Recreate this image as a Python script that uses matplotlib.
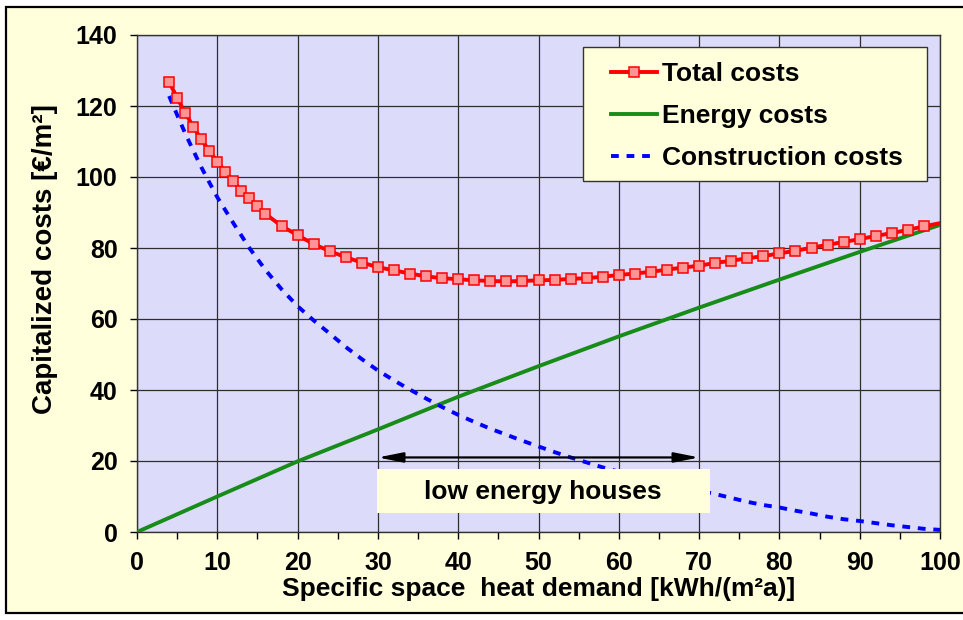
import numpy as np
import matplotlib
matplotlib.use('Agg')
import matplotlib.pyplot as plt
from matplotlib.patches import Rectangle
from matplotlib.lines import Line2D

plt.rcParams['font.family'] = ['Liberation Sans', 'DejaVu Sans']
plt.rcParams['font.weight'] = 'bold'

# ── Data ─────────────────────────────────────────────────────────────────────
total_x = [4, 5, 6, 7, 8, 9, 10, 11, 12, 13, 14, 15, 16,
           18, 20, 22, 24, 26, 28, 30, 32, 34, 36, 38, 40, 42, 44, 46, 48,
           50, 52, 54, 56, 58, 60, 62, 64, 66, 68, 70, 72, 74, 76, 78,
           80, 82, 84, 86, 88, 90, 92, 94, 96, 98, 100]
total_y = [126.8, 122.3, 118.1, 114.2, 110.6, 107.4, 104.3, 101.5, 98.9, 96.1, 94.0, 91.8, 89.6,
           86.2, 83.6, 81.1, 79.1, 77.4, 75.9, 74.6, 73.7, 72.8, 72.0, 71.5, 71.2, 70.9, 70.7, 70.6, 70.7,
           70.9, 71.0, 71.3, 71.5, 71.9, 72.4, 72.8, 73.3, 73.9, 74.5, 75.0, 75.8, 76.4, 77.1, 77.7,
           78.5, 79.2, 80.1, 80.9, 81.7, 82.5, 83.4, 84.2, 85.1, 86.1, 87.0]

energy_x = [0, 10, 20, 30, 40, 50, 60, 70, 80, 90, 100]
energy_y = [0.0, 10.0, 19.9, 28.9, 38.1, 46.7, 55.1, 63.2, 71.1, 78.9, 86.5]

constr_x = [4, 5, 6, 7, 8, 9, 10, 12, 14, 16, 18, 20, 22, 24, 26, 28, 30, 32, 34, 36, 38,
            40, 42, 44, 46, 48, 50, 52, 54, 56, 58, 60, 62, 64, 66, 68, 70, 72, 74, 76, 78,
            80, 82, 84, 86, 88, 90, 92, 94, 96, 98, 100]
constr_y = [122.8, 117.5, 112.3, 107.5, 102.8, 98.5, 94.3, 87.0, 80.0, 73.8, 68.4, 63.6, 59.6,
            55.9, 52.1, 48.7, 45.5, 42.7, 40.1, 37.6, 35.2, 33.0, 31.0, 29.1, 27.4, 25.7, 24.1,
            22.5, 21.0, 19.6, 18.2, 17.0, 15.8, 14.6, 13.5, 12.5, 11.6, 10.7, 9.6, 8.5, 7.6,
            6.9, 6.0, 5.2, 4.3, 3.6, 3.1, 2.5, 1.9, 1.4, 0.9, 0.6]

labels = ['Total costs', 'Energy costs', 'Construction costs']

CREAM = '#FFFFDC'
LAVENDER = '#DCDCFA'
RED = '#FF0000'
PINK = '#FF9494'
GREEN = '#188C18'
BLUE = '#0000FF'
LW = 2.8
DASH = (2.0, 2.0)

# ── Figure ───────────────────────────────────────────────────────────────────
fig = plt.figure(figsize=(9.63, 6.2), dpi=100, facecolor='white')
fig.patches.append(Rectangle((6 / 963, 7 / 620), 1.1, 606 / 620, transform=fig.transFigure,
                             facecolor=CREAM, edgecolor='black', lw=1.6, zorder=-10))

ax = fig.add_axes([137 / 963, 1 - 532 / 620, 803 / 963, 497 / 620])
ax.set_facecolor(LAVENDER)

ax.plot(energy_x, energy_y, color=GREEN, lw=LW, zorder=3)
ax.plot(constr_x, constr_y, color=BLUE, lw=LW, dashes=DASH, zorder=3)
ax.plot(total_x, total_y, color=RED, lw=LW, zorder=4)
ax.plot(total_x[:-1], total_y[:-1], ls='none', marker='s', ms=7,
        mfc=PINK, mec=RED, mew=1.1, zorder=4)

ax.set_xlim(0, 100)
ax.set_ylim(0, 140)
ax.set_xticks(np.arange(0, 101, 10))
ax.set_xticks(np.arange(5, 100, 10), minor=True)
ax.set_yticks(np.arange(0, 141, 20))
ax.tick_params(axis='both', which='both', direction='out', length=5, width=1,
               color='black', labelsize=18, pad=9)
ax.grid(True, which='major', color='#2E2E2E', lw=0.9)
ax.set_axisbelow(True)
for s in ax.spines.values():
    s.set_color('#333333')
    s.set_linewidth(1.0)

ax.set_ylabel('Capitalized costs [€/m²]', fontsize=20, fontweight='bold')
ax.yaxis.set_label_coords(-0.098, 0.55)
ax.set_xlabel('Specific space  heat demand [kWh/(m²a)]', fontsize=19, fontweight='bold')
ax.xaxis.set_label_coords(0.5, -0.091)

# ── Annotation: low energy houses ────────────────────────────────────────────
ax.annotate('', xy=(30, 21), xytext=(70, 21),
            arrowprops=dict(arrowstyle='<|-|>,head_length=0.75,head_width=0.15',
                            color='black', lw=1.6, mutation_scale=20,
                            shrinkA=0, shrinkB=0), zorder=5)
ax.add_patch(Rectangle((29.9, 5.35), 41.4, 12.35, facecolor=CREAM,
                       edgecolor='none', zorder=6))
ax.text(50.5, 11.4, 'low energy houses', ha='center', va='center',
        fontsize=19, fontweight='bold', zorder=7)

# ── Legend ───────────────────────────────────────────────────────────────────
ax.add_patch(Rectangle((0.5554, 0.7062), 0.4284, 0.2697, transform=ax.transAxes,
                       facecolor=CREAM, edgecolor='#333333', lw=1.0, zorder=8))
handles = [
    Line2D([], [], color=RED, lw=LW, marker='s', ms=7, mfc=PINK, mec=RED, mew=1.1),
    Line2D([], [], color=GREEN, lw=LW),
    Line2D([], [], color=BLUE, lw=LW, dashes=DASH),
]
leg = ax.legend(handles, labels, loc='center', bbox_to_anchor=(0.7716, 0.837),
                frameon=False, prop={'size': 19, 'weight': 'bold'},
                handlelength=1.74, handletextpad=0.19, labelspacing=0.69,
                borderpad=0.2)
leg.set_zorder(9)

fig.savefig('out.png', dpi=100, facecolor='white')
